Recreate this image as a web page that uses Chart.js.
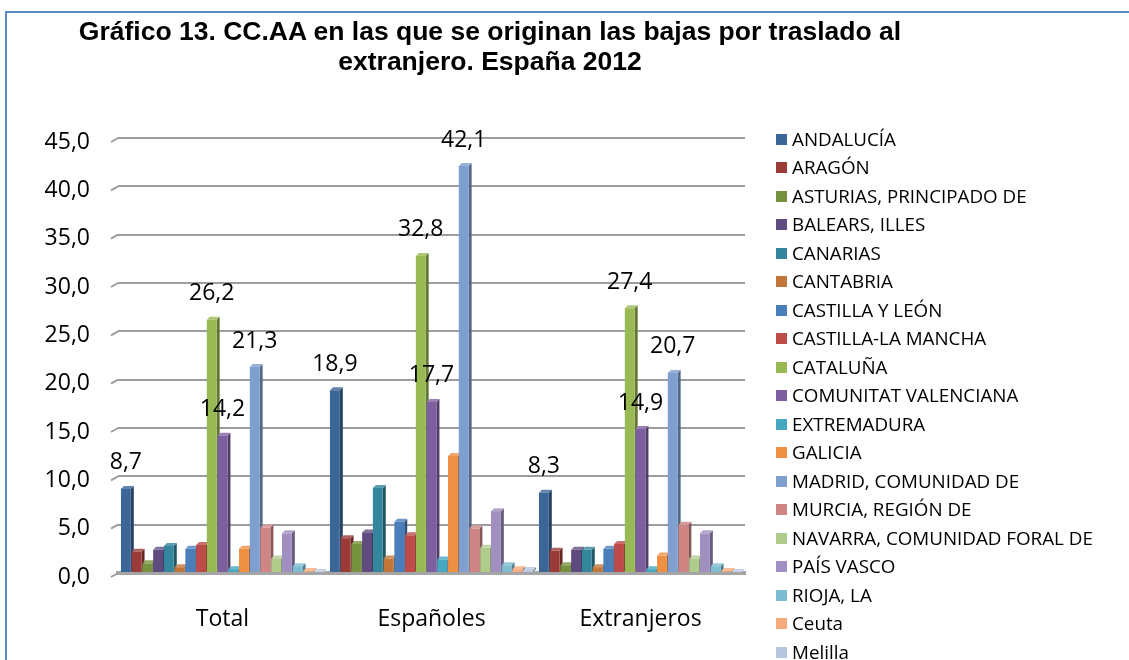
<!DOCTYPE html>
<html lang="es">
<head>
<meta charset="utf-8">
<title>Gráfico 13. CC.AA en las que se originan las bajas por traslado al extranjero</title>
<script src="https://cdn.jsdelivr.net/npm/chart.js@4.4.1/dist/chart.umd.min.js"></script>
<style>
  html, body { margin: 0; padding: 0; background: #fff; overflow: hidden; }
  #wrap { position: relative; width: 1129px; height: 660px; overflow: hidden; }
  #frame {
    position: absolute; left: 5px; top: 11px; right: -10px; bottom: -10px;
    border-left: 2px solid #5b8bc7; border-top: 2px solid #5b8bc7;
  }
  #title {
    position: absolute; left: 0; top: 16px; width: 980px; margin: 0;
    text-align: center; font: bold 26.5px "Liberation Sans", Arial, sans-serif;
    line-height: 30px; color: #000;
  }
  #chartBox { position: absolute; left: 0; top: 0; width: 1129px; height: 660px; }
  #legend {
    position: absolute; left: 776px; top: 124.75px; margin: 0; padding: 0;
    list-style: none; font: 18.8px "Open Sans", sans-serif; color: #000;
  }
  #legend li { height: 28.5px; line-height: 28.5px; display: flex; align-items: center; white-space: nowrap; }
  #legend li span.box { width: 11px; height: 11px; margin-right: 5px; flex: none; }
</style>
</head>
<body>
<div id="wrap">
  <div id="frame"></div>
  <div id="chartBox"><canvas id="bajasChart"></canvas></div>
  <h1 id="title">Gráfico 13. CC.AA en las que se originan las bajas por traslado al<br>extranjero. España 2012</h1>
  <ul id="legend"></ul>
</div>
<script>
// --------------------------
// datos
// --------------------------
const categories = ["Total", "Españoles", "Extranjeros"];

const regions = [
  "ANDALUCÍA", "ARAGÓN", "ASTURIAS, PRINCIPADO DE", "BALEARS, ILLES", "CANARIAS",
  "CANTABRIA", "CASTILLA Y LEÓN", "CASTILLA-LA MANCHA", "CATALUÑA", "COMUNITAT VALENCIANA",
  "EXTREMADURA", "GALICIA", "MADRID, COMUNIDAD DE", "MURCIA, REGIÓN DE",
  "NAVARRA, COMUNIDAD FORAL DE", "PAÍS VASCO", "RIOJA, LA", "Ceuta", "Melilla"
];

// % por comunidad, en el mismo orden que regions
const total       = [8.7, 2.2, 1.0, 2.4, 2.8, 0.6, 2.5, 2.9, 26.2, 14.2, 0.4, 2.5, 21.3, 4.7, 1.5, 4.1, 0.7, 0.2, 0.1];
const espanoles   = [18.9, 3.6, 3.0, 4.2, 8.8, 1.5, 5.3, 3.9, 32.8, 17.7, 1.4, 12.1, 42.1, 4.6, 2.6, 6.4, 0.8, 0.4, 0.3];
const extranjeros = [8.3, 2.3, 0.8, 2.4, 2.4, 0.6, 2.5, 3.0, 27.4, 14.9, 0.4, 1.8, 20.7, 5.0, 1.5, 4.1, 0.7, 0.2, 0.1];

const colors = [
  "#3c6598", "#9b3b38", "#77923e", "#5f4b7f", "#33869b", "#c3763a",
  "#4a7ebb", "#be4b48", "#98b954", "#7d5fa0", "#46a7c0", "#ee8f42",
  "#7f9fcf", "#d08585", "#b1cb8c", "#a08fc0", "#7cbdd2", "#f7ab7c", "#b6c6e0"
];

// series con etiqueta de datos
const labelledSeries = ["ANDALUCÍA", "CATALUÑA", "COMUNITAT VALENCIANA", "MADRID, COMUNIDAD DE"];

const yTicksMax = 45;
const yStep = 5;

// --------------------------
// helpers
// --------------------------
function fmt(v) {
  return Number(v).toFixed(1).replace(".", ",");
}

function shade(hex, amt) {
  const n = parseInt(hex.slice(1), 16);
  const t = amt < 0 ? 0 : 255;
  const p = Math.abs(amt);
  const c = [n >> 16, (n >> 8) & 255, n & 255].map(x => Math.round((t - x) * p + x));
  return `rgb(${c[0]},${c[1]},${c[2]})`;
}

const DEPTH = 3;

// caras laterales / superiores de las barras (efecto 3D)
const bar3d = {
  id: "bar3d",
  beforeDatasetsDraw(chart) {
    const { ctx } = chart;
    const y = chart.scales.y;
    const area = chart.chartArea;

    // pequeños biseles de la pared a la izquierda de cada línea de rejilla
    ctx.save();
    ctx.strokeStyle = "#9d9d9d";
    ctx.lineWidth = 2;
    y.ticks.forEach(t => {
      const py = y.getPixelForValue(t.value);
      ctx.beginPath();
      ctx.moveTo(area.left - 7, py + 4);
      ctx.lineTo(area.left, py);
      ctx.stroke();
    });

    chart.data.datasets.forEach((ds, i) => {
      const meta = chart.getDatasetMeta(i);
      meta.data.forEach(bar => {
        const left = bar.x - bar.width / 2;
        const right = bar.x + bar.width / 2;
        ctx.fillStyle = shade(ds.backgroundColor, -0.35);
        ctx.beginPath();
        ctx.moveTo(right, bar.y);
        ctx.lineTo(right + DEPTH, bar.y - DEPTH);
        ctx.lineTo(right + DEPTH, bar.base - DEPTH);
        ctx.lineTo(right, bar.base);
        ctx.closePath();
        ctx.fill();

        ctx.fillStyle = shade(ds.backgroundColor, 0.2);
        ctx.beginPath();
        ctx.moveTo(left, bar.y);
        ctx.lineTo(left + DEPTH, bar.y - DEPTH);
        ctx.lineTo(right + DEPTH, bar.y - DEPTH);
        ctx.lineTo(right, bar.y);
        ctx.closePath();
        ctx.fill();
      });
    });
    ctx.restore();
  }
};

// etiquetas de valor
const valueLabels = {
  id: "valueLabels",
  afterDatasetsDraw(chart) {
    const { ctx } = chart;
    ctx.save();
    ctx.font = '23px "Open Sans", sans-serif';
    ctx.fillStyle = "#000";
    ctx.textAlign = "center";
    ctx.textBaseline = "middle";
    chart.data.datasets.forEach((ds, i) => {
      if (!labelledSeries.includes(ds.label)) return;
      chart.getDatasetMeta(i).data.forEach((bar, j) => {
        ctx.fillText(fmt(ds.data[j]), bar.x, bar.y - 26);
      });
    });
    ctx.restore();
  }
};

// --------------------------
// leyenda html
// --------------------------
function buildLegend() {
  const ul = document.getElementById("legend");
  ul.innerHTML = regions
    .map((r, i) => `<li><span class="box" style="background:${colors[i]}"></span>${r}</li>`)
    .join("");
}

// --------------------------
// gráfico
// --------------------------
function createChart() {
  const datasets = regions.map((name, i) => ({
    label: name,
    data: [total[i], espanoles[i], extranjeros[i]],
    backgroundColor: colors[i],
    borderWidth: 0,
    barPercentage: 0.92,
    categoryPercentage: 0.976
  }));

  const canvas = document.getElementById("bajasChart");
  return new Chart(canvas.getContext("2d"), {
    type: "bar",
    data: { labels: categories, datasets },
    plugins: [bar3d, valueLabels],
    options: {
      responsive: true,
      maintainAspectRatio: false,
      animation: false,
      layout: { padding: { top: 138, right: 384, left: 10, bottom: 0 } },
      plugins: {
        legend: { display: false },
        title: { display: false },
        tooltip: { enabled: false }
      },
      scales: {
        x: {
          grid: { display: false },
          border: { display: true, color: "#a5a5a5", width: 4 },
          ticks: {
            color: "#000",
            font: { family: "Open Sans", size: 23 },
            padding: 25
          },
          afterFit: s => { s.height = 87; }
        },
        y: {
          min: 0,
          max: yTicksMax,
          ticks: {
            stepSize: yStep,
            color: "#000",
            font: { family: "Open Sans", size: 23 },
            padding: 28,
            labelOffset: 4,
            callback: v => fmt(v)
          },
          grid: { color: "#9d9d9d", lineWidth: 2, drawTicks: false },
          border: { display: false },
          afterFit: s => { s.width = 108; }
        }
      }
    }
  });
}

buildLegend();
createChart();
</script>
</body>
</html>
